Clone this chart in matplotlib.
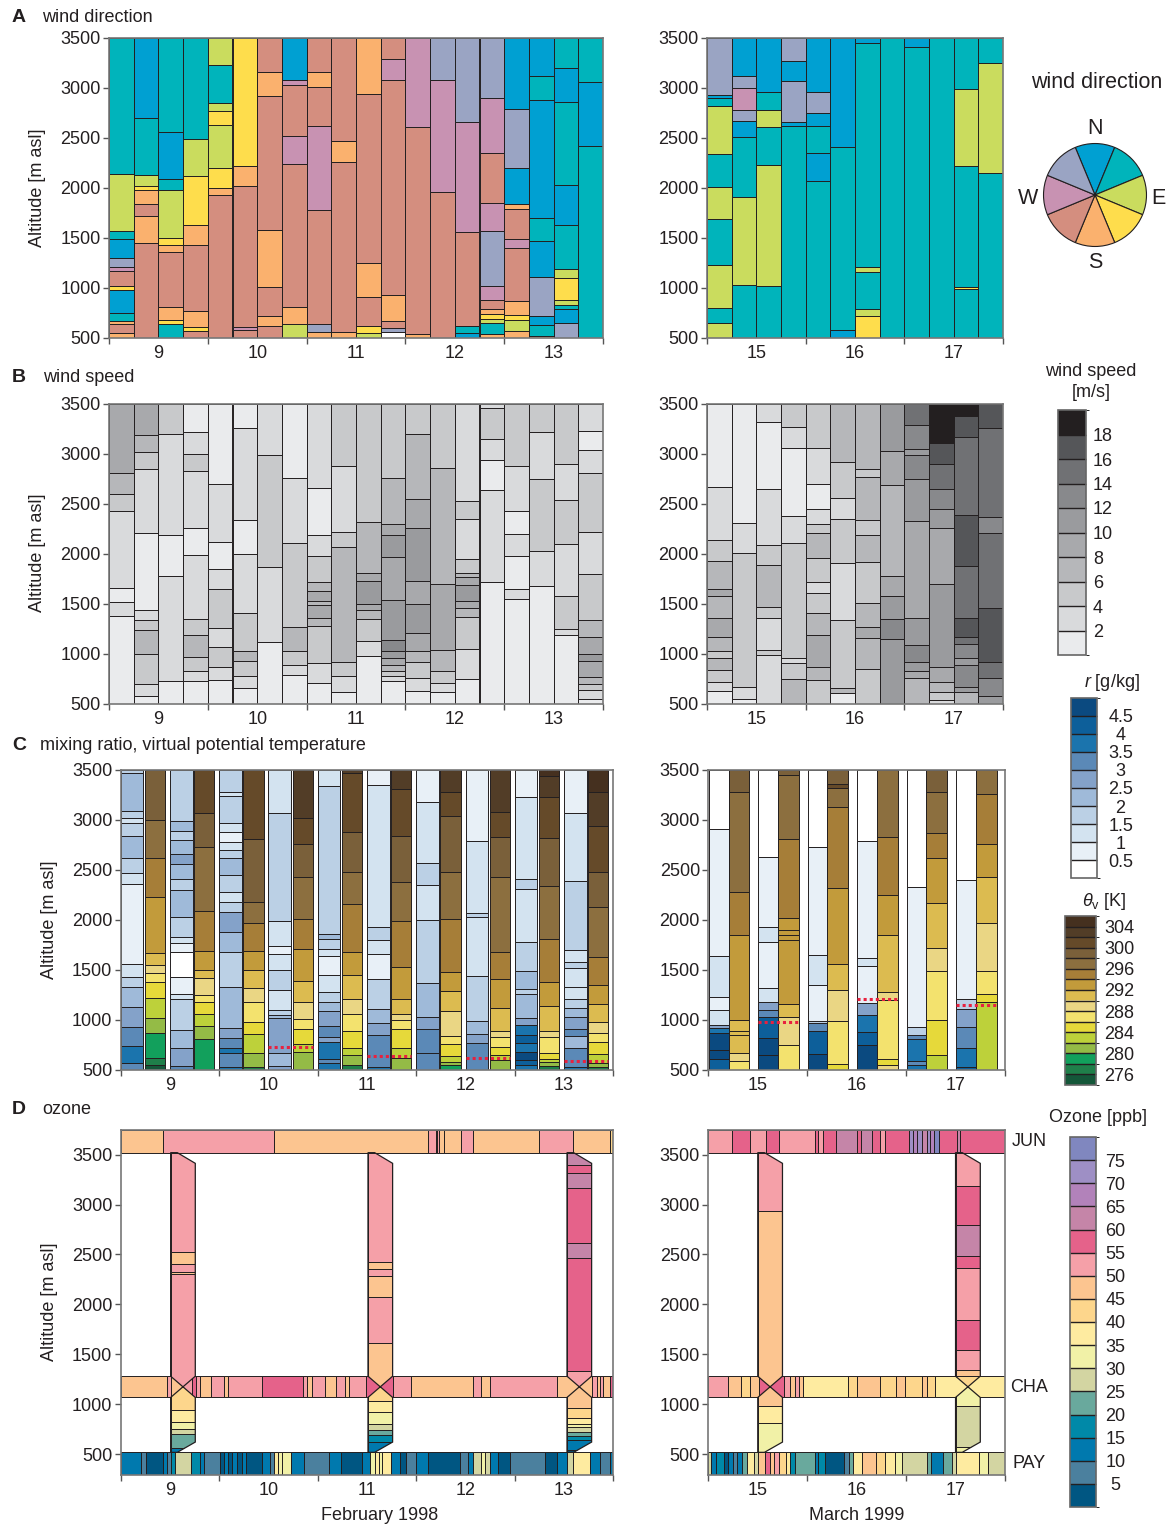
import matplotlib
matplotlib.use('Agg')
import matplotlib.pyplot as plt
from matplotlib.colors import ListedColormap, BoundaryNorm
from matplotlib.cm import ScalarMappable
from matplotlib.patches import Polygon

plt.rcParams['font.family'] = ['Liberation Sans', 'DejaVu Sans']
plt.rcParams['mathtext.fontset'] = 'custom'
plt.rcParams['mathtext.it'] = 'Liberation Sans:italic'
plt.rcParams['mathtext.rm'] = 'Liberation Sans'

# ---------------------------------------------------------------- data
# every column: list of (top of layer [m asl], value) from 500 m upward

# 6-hourly soundings
feb_times = [9 + k / 4 for k in range(20)]
mar_times = [15 + k / 4 for k in range(12)]

wind_dir_feb = [
    [(550, 'S'), (643, 'SW'), (667, 'S'), (750, 'NE'), (977, 'N'), (1017, 'SE'), (1167, 'SW'), (1210, 'W'), (1303, 'NW'), (1490, 'N'), (1573, 'NE'), (2143, 'E'), (3500, 'NE')],
    [(1450, 'SW'), (1723, 'S'), (1843, 'SW'), (1983, 'S'), (2023, 'SE'), (2130, 'E'), (2700, 'NE'), (3500, 'N')],
    [(640, 'NE'), (683, 'SE'), (813, 'S'), (1360, 'SW'), (1433, 'S'), (1500, 'SE'), (1977, 'E'), (2090, 'NE'), (2557, 'N'), (3500, 'NE')],
    [(573, 'SW'), (610, 'SE'), (773, 'S'), (1427, 'SW'), (1630, 'S'), (2123, 'SE'), (2493, 'E'), (3500, 'NE')],
    [(1930, 'SW'), (2000, 'S'), (2197, 'SE'), (2630, 'E'), (2770, 'SE'), (2850, 'E'), (3230, 'NE'), (3500, 'E')],
    [(583, 'SW'), (610, 'W'), (2023, 'SW'), (2223, 'S'), (3500, 'SE')],
    [(623, 'SW'), (717, 'S'), (1007, 'SW'), (1577, 'S'), (2923, 'SW'), (3163, 'S'), (3500, 'SW')],
    [(640, 'E'), (813, 'S'), (2243, 'SW'), (2523, 'W'), (3033, 'SW'), (3077, 'W'), (3500, 'N')],
    [(563, 'S'), (640, 'NW'), (1780, 'SW'), (2617, 'W'), (3013, 'SW'), (3160, 'S'), (3500, 'SW')],
    [(557, 'S'), (2260, 'SW'), (2467, 'S'), (3500, 'SW')],
    [(550, 'E'), (623, 'SE'), (907, 'SW'), (1250, 'S'), (2940, 'SW'), (3500, 'S')],
    [(557, None), (603, 'NW'), (670, 'SW'), (930, 'S'), (3080, 'SW'), (3290, 'W'), (3500, 'SW')],
    [(543, 'S'), (2610, 'SW'), (3500, 'W')],
    [(1957, 'SW'), (3080, 'W'), (3500, 'NW')],
    [(550, 'N'), (620, 'NE'), (1560, 'SW'), (2663, 'W'), (3500, 'NW')],
    [(543, 'S'), (650, 'NE'), (690, 'E'), (740, 'SE'), (790, 'S'), (880, 'SW'), (1020, 'W'), (1570, 'NW'), (1850, 'W'), (2347, 'SW'), (2903, 'W'), (3500, 'NW')],
    [(567, 'S'), (680, 'E'), (727, 'SE'), (867, 'S'), (1397, 'SW'), (1487, 'W'), (1793, 'SW'), (1840, 'S'), (2203, 'N'), (2793, 'NW'), (3500, 'N')],
    [(523, 'S'), (630, 'NE'), (717, 'N'), (1107, 'NW'), (1467, 'N'), (1697, 'NE'), (2877, 'N'), (3120, 'NE'), (3500, 'N')],
    [(650, 'NW'), (790, 'N'), (830, 'NE'), (880, 'E'), (1100, 'SE'), (1190, 'E'), (1627, 'NE'), (2030, 'N'), (2860, 'NE'), (3203, 'N'), (3500, 'NE')],
    [(2420, 'NE'), (3063, 'N'), (3500, 'NE')],
]

wind_dir_mar = [
    [(647, 'E'), (800, 'NE'), (1230, 'E'), (1693, 'NE'), (2007, 'E'), (2343, 'NE'), (2817, 'E'), (2900, 'NE'), (2927, 'N'), (3500, 'NW')],
    [(1033, 'NE'), (1907, 'E'), (2513, 'NE'), (2667, 'N'), (2783, 'NW'), (3003, 'W'), (3117, 'NW'), (3500, 'N')],
    [(1023, 'NE'), (2233, 'E'), (2610, 'NE'), (2783, 'E'), (2963, 'NE'), (3500, 'N')],
    [(2617, 'NE'), (2657, 'N'), (3067, 'NW'), (3273, 'N'), (3500, 'NW')],
    [(2067, 'NE'), (2353, 'N'), (2617, 'NE'), (2750, 'N'), (2957, 'NW'), (3500, 'N')],
    [(577, 'N'), (2407, 'NE'), (3500, 'N')],
    [(723, 'SE'), (790, 'E'), (1160, 'NE'), (1213, 'E'), (3450, 'NE'), (3500, 'N')],
    [(3500, 'NE')],
    [(3410, 'NE'), (3500, 'N')],
    [(3500, 'NE')],
    [(993, 'NE'), (1013, 'SE'), (2220, 'NE'), (2987, 'E'), (3500, 'NE')],
    [(2150, 'NE'), (3250, 'E'), (3500, 'NE')],
]

# wind speed classes in m/s
wind_speed_feb = [
    [(1380, 1), (1520, 3), (1660, 1), (2427, 3), (2603, 5), (2810, 7), (3500, 9)],
    [(577, 1), (700, 3), (1000, 5), (1243, 7), (1340, 5), (1440, 3), (2210, 1), (2853, 3), (3017, 5), (3187, 7), (3500, 9)],
    [(727, 1), (1777, 3), (2193, 1), (3203, 3), (3500, 5)],
    [(733, 1), (833, 3), (967, 5), (1193, 7), (1350, 5), (1990, 3), (2257, 1), (2827, 3), (3000, 5), (3220, 3), (3500, 1)],
    [(737, 1), (873, 3), (1070, 5), (1260, 3), (1653, 5), (1850, 3), (2120, 1), (2703, 3), (3500, 1)],
    [(660, 1), (780, 3), (933, 5), (1027, 7), (1407, 5), (2000, 3), (2340, 1), (3260, 3), (3500, 1)],
    [(1117, 1), (1867, 3), (2993, 5), (3500, 3)],
    [(790, 1), (890, 3), (1027, 5), (1270, 7), (2110, 5), (2760, 3), (3500, 1)],
    [(713, 1), (910, 3), (1283, 5), (1360, 7), (1487, 9), (1527, 7), (1627, 9), (1720, 7), (1983, 5), (2193, 3), (2660, 1), (3500, 3)],
    [(620, 1), (777, 3), (917, 5), (2067, 7), (2220, 5), (2880, 3), (3500, 5)],
    [(980, 1), (1133, 3), (1350, 5), (1440, 7), (1500, 9), (1733, 11), (1807, 9), (2320, 7), (3500, 5)],
    [(733, 1), (777, 3), (827, 5), (893, 7), (960, 9), (1033, 11), (1137, 13), (1543, 11), (1970, 9), (2190, 11), (2300, 9), (2760, 7), (3500, 5)],
    [(633, 1), (757, 3), (917, 5), (1027, 7), (1210, 9), (1503, 11), (1733, 9), (2257, 11), (2550, 9), (3203, 7), (3500, 5)],
    [(620, 1), (707, 3), (827, 5), (1037, 7), (1700, 9), (2857, 7), (3500, 5)],
    [(750, 1), (1053, 3), (1367, 5), (1460, 7), (1527, 9), (1687, 11), (1770, 9), (1810, 7), (1950, 5), (2350, 3), (2527, 5), (3500, 3)],
    [(1717, 1), (2643, 3), (2943, 1), (3150, 3), (3460, 5), (3500, 3)],
    [(1550, 1), (1650, 3), (1977, 1), (2200, 3), (2427, 1), (2880, 3), (3500, 5)],
    [(1683, 1), (2033, 3), (2750, 5), (3220, 3), (3500, 5)],
    [(1187, 1), (1250, 3), (1577, 5), (2100, 3), (2543, 5), (2900, 3), (3500, 5)],
    [(553, 1), (643, 3), (700, 5), (767, 7), (933, 9), (1000, 11), (1170, 9), (1340, 7), (1803, 5), (2220, 3), (2807, 5), (3043, 3), (3233, 1), (3500, 3)],
]

wind_speed_mar = [
    [(633, 1), (717, 3), (840, 5), (963, 7), (1033, 5), (1167, 7), (1357, 9), (1580, 7), (1647, 9), (1927, 7), (2140, 5), (2673, 3), (3500, 1)],
    [(550, 1), (673, 3), (2007, 5), (2307, 3), (3500, 1)],
    [(987, 3), (1040, 5), (1357, 3), (1467, 5), (1893, 7), (2087, 5), (2650, 3), (3317, 1), (3500, 3)],
    [(750, 7), (907, 5), (957, 3), (2110, 5), (2383, 3), (3057, 1), (3273, 3), (3500, 5)],
    [(740, 5), (867, 7), (1187, 9), (1413, 7), (1613, 5), (1717, 3), (1963, 5), (2213, 7), (2303, 5), (2447, 3), (2700, 1), (3060, 3), (3500, 5)],
    [(613, 1), (657, 7), (1340, 5), (1907, 3), (2347, 5), (2560, 3), (2917, 5), (3500, 7)],
    [(847, 5), (1157, 7), (1267, 9), (1513, 7), (1917, 5), (2190, 7), (2340, 5), (2773, 7), (2847, 5), (3500, 7)],
    [(1147, 11), (1347, 13), (1583, 11), (1780, 9), (2693, 7), (3030, 9), (3500, 11)],
    [(757, 7), (833, 9), (923, 11), (1090, 13), (1363, 11), (2333, 9), (2750, 11), (2990, 13), (3047, 11), (3287, 13), (3500, 15)],
    [(540, 3), (617, 5), (723, 7), (867, 9), (1697, 11), (2257, 9), (2450, 11), (2650, 13), (2897, 15), (3107, 17), (3500, 19)],
    [(623, 7), (667, 11), (890, 13), (963, 11), (1100, 13), (1167, 15), (1363, 17), (1883, 15), (2387, 17), (3173, 15), (3383, 17), (3500, 19)],
    [(580, 11), (757, 13), (917, 15), (1457, 17), (2213, 15), (2367, 13), (3257, 15), (3500, 17)],
]

# 12-hourly soundings: mixing ratio r [g/kg] and virtual potential temperature [K]
feb_soundings = [9.0, 9.5, 10.0, 10.5, 11.0, 11.5, 12.0, 12.5, 13.0, 13.5]
mar_soundings = [15.0, 15.5, 16.0, 16.5, 17.0, 17.5]

mix_feb = [
    [(567, 3.25), (740, 3.75), (927, 3.25), (1133, 2.75), (1327, 2.25), (1433, 1.75), (1560, 1.25), (2360, 0.75), (2473, 1.25), (2623, 1.75), (2840, 2.25), (2967, 1.75), (3017, 1.25), (3093, 1.75), (3467, 2.25), (3500, 1.75)],
    [(540, 3.25), (717, 2.75), (900, 2.25), (1210, 1.75), (1257, 1.25), (1427, 0.75), (1683, 0.25), (1767, 0.75), (1827, 1.25), (2027, 1.75), (2300, 2.25), (2410, 1.75), (2557, 2.25), (2657, 2.75), (2800, 2.25), (2893, 1.75), (2990, 2.25), (3500, 1.75)],
    [(533, 3.75), (667, 3.25), (717, 3.75), (817, 3.25), (917, 2.75), (1333, 2.25), (1683, 1.75), (1883, 2.25), (2083, 2.75), (2183, 1.75), (2283, 1.25), (2450, 1.75), (2617, 2.25), (2700, 1.75), (2783, 1.25), (2877, 0.75), (2967, 1.25), (3240, 1.75), (3283, 1.25), (3500, 1.75)],
    [(540, 2.75), (673, 2.25), (1017, 2.75), (1050, 2.25), (1100, 1.75), (1300, 1.25), (1500, 1.75), (1660, 1.25), (1740, 0.75), (1993, 1.25), (3067, 1.75), (3500, 1.25)],
    [(567, 3.75), (607, 3.25), (783, 3.75), (833, 2.75), (940, 3.25), (1093, 2.75), (1177, 2.25), (1277, 1.75), (1450, 1.25), (1640, 0.75), (1707, 1.25), (1807, 1.75), (1860, 2.25), (3340, 1.75), (3500, 1.25)],
    [(533, 3.75), (850, 3.25), (967, 2.75), (1110, 2.25), (1410, 1.75), (1660, 0.75), (1800, 1.25), (1927, 1.75), (3350, 1.25), (3500, 0.75)],
    [(667, 3.25), (907, 3.25), (1027, 2.75), (1367, 2.25), (2000, 1.75), (2350, 1.25), (2573, 1.75), (3183, 1.25), (3500, 0.75)],
    [(773, 3.25), (860, 2.75), (990, 2.25), (1440, 1.75), (2033, 1.25), (2067, 1.75), (2793, 1.25), (3500, 0.75)],
    [(550, 3.75), (600, 4.25), (683, 4.75), (767, 3.75), (850, 4.25), (950, 3.75), (1017, 2.75), (1260, 2.25), (1313, 1.75), (1490, 2.25), (1780, 1.75), (2307, 1.25), (2407, 1.75), (3227, 1.25), (3500, 0.75)],
    [(533, 3.75), (723, 3.25), (840, 2.25), (907, 3.25), (1033, 2.75), (1117, 2.25), (1207, 1.75), (1333, 1.25), (1517, 1.25), (1577, 1.75), (1700, 1.25), (2393, 1.75), (3067, 1.25), (3500, 0.75)],
]

theta_feb = [
    [(550, 275), (623, 277), (867, 279), (1023, 281), (1223, 283), (1377, 285), (1467, 287), (1550, 289), (1667, 291), (2227, 293), (2617, 295), (3000, 297), (3500, 299)],
    [(807, 279), (943, 281), (1060, 283), (1183, 285), (1250, 287), (1417, 289), (1500, 291), (1690, 293), (2093, 295), (2727, 297), (3073, 299), (3500, 301)],
    [(527, 277), (667, 281), (857, 283), (983, 285), (1183, 287), (1323, 289), (1500, 291), (1690, 293), (1973, 295), (2183, 297), (2810, 299), (3500, 301)],
    [(677, 281), (760, 283), (907, 285), (1010, 287), (1177, 289), (1390, 291), (1707, 293), (2013, 295), (2427, 297), (2757, 299), (3017, 301), (3500, 303)],
    [(550, 277), (650, 281), (717, 283), (890, 285), (1057, 287), (1207, 289), (1450, 291), (1683, 293), (2160, 295), (2477, 297), (2883, 299), (3473, 301), (3500, 303)],
    [(617, 281), (717, 283), (913, 285), (1000, 287), (1060, 289), (1210, 291), (1527, 293), (1993, 295), (2377, 297), (2843, 299), (3310, 301), (3500, 303)],
    [(550, 279), (583, 281), (640, 283), (757, 285), (843, 287), (1093, 289), (1290, 291), (1477, 293), (2007, 295), (2477, 297), (3043, 299), (3277, 301), (3500, 303)],
    [(600, 281), (650, 283), (727, 285), (833, 287), (893, 289), (1117, 291), (1410, 293), (1677, 295), (2427, 297), (2827, 299), (3083, 301), (3500, 303)],
    [(540, 277), (583, 281), (610, 283), (667, 285), (827, 287), (893, 289), (1143, 291), (1377, 293), (1807, 295), (2340, 297), (2817, 299), (3233, 301), (3443, 303), (3500, 305)],
    [(527, 277), (567, 281), (657, 283), (783, 285), (867, 287), (983, 289), (1157, 291), (1350, 293), (1627, 295), (2133, 297), (2477, 299), (2943, 301), (3277, 303), (3500, 305)],
]

mix_mar = [
    [(607, 4.25), (700, 4.75), (867, 4.75), (917, 3.75), (950, 2.75), (1100, 1.25), (1227, 0.75), (1640, 1.25), (2907, 0.75), (3500, 0.25)],
    [(650, 4.75), (817, 4.75), (1033, 4.25), (1100, 3.25), (1183, 2.75), (1317, 1.25), (1783, 0.75), (1927, 1.25), (2627, 0.75), (3500, 0.25)],
    [(660, 4.75), (893, 4.25), (967, 3.25), (993, 1.75), (1350, 0.75), (1650, 1.25), (2733, 0.75), (3500, 0.25)],
    [(750, 4.75), (877, 4.25), (1050, 3.75), (1173, 2.75), (1543, 0.75), (1617, 1.25), (2793, 0.75), (3500, 0.25)],
    [(550, 3.75), (593, 3.25), (807, 3.75), (850, 3.25), (933, 1.75), (2333, 0.75), (3500, 0.25)],
    [(527, 4.25), (717, 3.75), (927, 3.25), (1107, 2.75), (1207, 1.75), (2400, 0.75), (3500, 0.25)],
]

theta_mar = [
    [(590, 287), (667, 289), (850, 291), (893, 291), (1000, 291), (1850, 293), (2283, 295), (3277, 297), (3500, 299)],
    [(750, 287), (1027, 289), (1160, 291), (1800, 293), (1850, 293), (1900, 293), (2017, 293), (2810, 295), (3450, 297), (3500, 299)],
    [(560, 285), (990, 287), (1300, 289), (1557, 291), (2323, 293), (3127, 295), (3317, 297), (3360, 301), (3500, 299)],
    [(550, 289), (610, 285), (1200, 287), (1277, 289), (1850, 291), (2250, 293), (2833, 295), (3500, 297)],
    [(650, 283), (1000, 285), (1493, 287), (1717, 289), (2167, 291), (2617, 293), (2867, 295), (3277, 297), (3500, 299)],
    [(1177, 283), (1257, 285), (1490, 287), (1967, 289), (2433, 291), (2760, 293), (3260, 295), (3500, 297)],
]

# mixed-layer top (dotted red)
blh_feb_times = [10.5, 11.5, 12.5, 13.5]
blh_feb = [727, 640, 617, 593]
blh_mar_times = [15.5, 16.5, 17.5]
blh_mar = [983, 1207, 1150]

# ozone [ppb]: station records as (end of period [day], value)
jun_feb = [(9.43, 47.5), (10.56, 52.5), (12.12, 47.5), (12.20, 52.5), (12.21, 47.5), (12.23, 52.5), (12.28, 47.5),
           (12.45, 47.5), (12.58, 52.5), (13.25, 47.5), (13.59, 52.5), (13.97, 47.5), (14.0, 42.5)]
cha_feb = [(9.47, 47.5), (9.51, 52.5), (9.63, 47.5), (9.72, 52.5), (9.76, 57.5), (9.80, 52.5), (9.92, 47.5),
           (10.05, 52.5), (10.09, 47.5), (10.43, 52.5), (10.85, 57.5), (10.89, 52.5), (10.94, 47.5), (11.07, 52.5),
           (11.19, 47.5), (11.28, 52.5), (11.32, 47.5), (11.49, 52.5), (11.76, 57.5), (11.95, 52.5), (12.58, 47.5),
           (12.66, 52.5), (12.75, 47.5), (13.43, 52.5), (13.78, 47.5), (13.83, 52.5), (13.87, 47.5), (13.90, 52.5),
           (13.97, 47.5), (14.0, 57.5)]
pay_feb = [(9.21, 12.5), (9.26, 7.5), (9.43, 2.5), (9.47, 12.5), (9.51, 7.5), (9.55, 17.5), (9.71, 27.5),
           (9.80, 17.5), (9.85, 12.5), (10.01, 7.5), (10.05, 2.5), (10.09, 12.5), (10.13, 2.5), (10.18, 12.5),
           (10.23, 2.5), (10.27, 12.5), (10.43, 2.5), (10.52, 12.5), (10.56, 7.5), (10.60, 37.5), (10.64, 32.5),
           (10.73, 32.5), (10.86, 12.5), (11.11, 7.5), (11.24, 12.5), (11.45, 2.5), (11.53, 12.5), (11.58, 32.5),
           (11.62, 37.5), (11.65, 32.5), (11.74, 37.5), (11.83, 12.5), (11.90, 2.5), (12.00, 7.5), (12.12, 12.5),
           (12.44, 2.5), (12.53, 7.5), (12.58, 12.5), (12.66, 27.5), (12.70, 32.5), (12.75, 27.5), (12.83, 12.5),
           (12.95, 2.5), (13.31, 7.5), (13.43, 2.5), (13.53, 12.5), (13.59, 27.5), (13.76, 37.5), (13.87, 12.5),
           (13.97, 7.5), (14.0, 12.5)]

jun_mar = [(15.24, 52.5), (15.42, 57.5), (15.58, 52.5), (15.71, 57.5), (16.08, 52.5), (16.11, 57.5), (16.16, 52.5),
           (16.29, 57.5), (16.50, 62.5), (16.54, 57.5), (16.66, 62.5), (16.74, 57.5), (16.79, 52.5), (17.03, 57.5),
           (17.07, 72.5), (17.11, 67.5), (17.16, 72.5), (17.21, 62.5), (17.24, 72.5), (17.28, 67.5), (17.33, 77.5),
           (17.51, 57.5), (17.55, 62.5), (18.0, 57.5)]
cha_mar = [(15.20, 52.5), (15.33, 47.5), (15.42, 42.5), (15.51, 47.5), (15.77, 57.5), (15.83, 52.5), (15.88, 47.5),
           (15.92, 52.5), (15.96, 47.5), (16.41, 37.5), (16.50, 42.5), (16.74, 47.5), (16.90, 42.5), (16.99, 47.5),
           (17.16, 42.5), (17.21, 47.5), (17.29, 42.5), (18.0, 37.5)]
pay_mar = [(15.03, 27.5), (15.08, 12.5), (15.16, 17.5), (15.20, 2.5), (15.25, 12.5), (15.29, 7.5), (15.34, 12.5),
           (15.39, 22.5), (15.46, 37.5), (15.50, 27.5), (15.57, 47.5), (15.62, 57.5), (15.66, 47.5), (15.71, 52.5),
           (15.79, 42.5), (15.83, 37.5), (15.88, 17.5), (16.08, 22.5), (16.11, 12.5), (16.18, 17.5), (16.37, 2.5),
           (16.42, 7.5), (16.46, 22.5), (16.55, 37.5), (16.70, 47.5), (16.79, 42.5), (16.89, 37.5), (16.96, 32.5),
           (17.21, 27.5), (17.25, 22.5), (17.37, 12.5), (17.46, 22.5), (17.50, 27.5), (17.74, 37.5), (17.83, 32.5),
           (18.0, 27.5)]

# ozone soundings, (top [m asl], value) from PAY level upward
ozone_prof_feb_times = [9.507, 11.51, 13.53]
ozone_prof_feb = [
    [(557, 12.5), (697, 22.5), (747, 27.5), (817, 32.5), (940, 37.5), (1173, 42.5), (2307, 52.5), (2327, 47.5),
     (2407, 52.5), (2523, 47.5), (3520, 52.5)],
    [(623, 12.5), (690, 17.5), (740, 22.5), (797, 27.5), (917, 32.5), (1033, 37.5), (1173, 42.5), (1617, 47.5),
     (2073, 52.5), (2287, 47.5), (2357, 52.5), (2427, 47.5), (3520, 52.5)],
    [(540, 2.5), (640, 12.5), (680, 17.5), (723, 22.5), (773, 27.5), (797, 32.5), (857, 37.5), (957, 42.5),
     (1173, 47.5), (1333, 52.5), (2467, 57.5), (2613, 62.5), (3163, 57.5), (3313, 62.5), (3400, 57.5), (3520, 62.5)],
]
ozone_prof_mar_times = [15.50, 17.50]
ozone_prof_mar = [
    [(807, 32.5), (980, 37.5), (1173, 47.5), (2940, 47.5), (3520, 52.5)],
    [(567, 32.5), (980, 27.5), (1173, 32.5), (1280, 42.5), (1347, 47.5), (1547, 52.5), (1840, 57.5), (2367, 52.5),
     (2480, 57.5), (2800, 62.5), (3190, 57.5), (3520, 52.5)],
]

# station levels [m asl]
JUN_BOT, JUN_TOP = 3520, 3747
CHA_BOT, CHA_TOP = 1067, 1280
PAY_BOT, PAY_TOP = 290, 517

# ---------------------------------------------------------------- colours
dir_names = ['N', 'NE', 'E', 'SE', 'S', 'SW', 'W', 'NW']
dir_colors = ['#00a0d2', '#00b4bb', '#cadc5e', '#fedd4c', '#fab16e', '#d48e7f', '#c892b2', '#9aa4c3']
dir_lookup = dict(zip(dir_names, dir_colors))

speed_bounds = list(range(0, 22, 2))
speed_colors = ['#eaebed', '#d9dadc', '#c8c9cb', '#b6b7ba', '#a8a9ac', '#9a9b9e', '#88898c', '#707174', '#555659', '#231f20']

mix_bounds = [0, 0.5, 1, 1.5, 2, 2.5, 3, 3.5, 4, 4.5, 5]
mix_colors = ['#ffffff', '#e8f0f7', '#d3e3f0', '#bbd0e5', '#9fbad9', '#84a2c9', '#5b89b7', '#1b74ad', '#0d5f9a', '#0b4a80']

theta_bounds = list(range(274, 308, 2))
theta_colors = ['#145739', '#1f7f4a', '#12a05c', '#94bb46', '#bdd13a', '#e6d93a', '#f3e26e', '#ead684',
                '#dcbb50', '#c29b3b', '#a67e38', '#8c6f3f', '#7a603a', '#654a29', '#523d27', '#45301f']

ozone_bounds = list(range(0, 85, 5))
ozone_colors = ['#005682', '#4b809e', '#0079ae', '#0089a8', '#69a99d', '#d3d5a2', '#f1f1a7', '#feeba0',
                '#fdd68c', '#fcc590', '#f5a0a8', '#e5628a', '#c585a8', '#b282ba', '#9e8fc5', '#8087bf']

EDGE = '#231f20'
SPINE = '#777777'
W, H = 1169, 1526


def scale(colors, bounds):
    cmap = ListedColormap(colors)
    norm = BoundaryNorm(bounds, cmap.N)
    return cmap, norm, (lambda v: cmap(norm(v)))


speed_cmap, speed_norm, speed_col = scale(speed_colors, speed_bounds)
mix_cmap, mix_norm, mix_col = scale(mix_colors, mix_bounds)
theta_cmap, theta_norm, theta_col = scale(theta_colors, theta_bounds)
ozone_cmap, ozone_norm, ozone_col = scale(ozone_colors, ozone_bounds)


def dir_col(v):
    return dir_lookup.get(v, 'white')


# ---------------------------------------------------------------- helpers
fig = plt.figure(figsize=(W / 100, H / 100), dpi=100)


def px_axes(x0, y0, x1, y1):
    return fig.add_axes([x0 / W, 1 - y1 / H, (x1 - x0) / W, (y1 - y0) / H])


def ftext(x, y, s, **kw):
    kw.setdefault('fontsize', 13)
    kw.setdefault('color', EDGE)
    return fig.text(x / W, 1 - y / H, s, **kw)


def style(ax, day0, day1, ylim, yticks):
    ax.set_xlim(day0, day1)
    ax.set_ylim(*ylim)
    ax.set_yticks(yticks)
    ax.set_xticks(range(day0, day1 + 1))
    ax.set_xticklabels([])
    ax.set_xticks([d + 0.5 for d in range(day0, day1)], minor=True)
    ax.set_xticklabels([str(d) for d in range(day0, day1)], minor=True)
    ax.tick_params(axis='x', which='minor', length=0, pad=5, labelsize=13, labelcolor=EDGE)
    ax.tick_params(which='major', length=4.5, width=1, color='#555555', labelsize=13,
                   labelcolor=EDGE, pad=1.5)
    ax.tick_params(axis='y', which='minor', left=False)
    for s in ax.spines.values():
        s.set_color(SPINE)
        s.set_linewidth(1.2)


def column(ax, x, width, segs, colour, base=500, z=2):
    bottoms = [base] + [t for t, _ in segs[:-1]]
    heights = [t - b for (t, _), b in zip(segs, bottoms)]
    return ax.bar([x] * len(segs), heights, width, bottom=bottoms, align='edge',
                  color=[colour(v) for _, v in segs], edgecolor=EDGE, linewidth=0.7, zorder=z)


def strip(ax, start, segs, y0, y1):
    lefts = [start] + [t for t, _ in segs[:-1]]
    widths = [t - l for (t, _), l in zip(segs, lefts)]
    ax.barh([y0] * len(segs), widths, height=y1 - y0, left=lefts, align='edge',
            color=[ozone_col(v) for _, v in segs], edgecolor=EDGE, linewidth=0.7, zorder=2)


def ozone_profile(ax, t0, segs, width=0.25):
    x0, x1 = t0, t0 + width
    xc, xs = t0 + width / 2, t0 + 0.27 * width
    mid = (CHA_BOT + CHA_TOP) / 2
    verts = [(x0, JUN_BOT), (xs, JUN_BOT), (x1, JUN_BOT - 107), (x1, CHA_TOP), (xc, mid), (x1, CHA_BOT),
             (x1, PAY_TOP + 103), (xs, PAY_TOP), (x0, PAY_TOP), (x0, CHA_BOT), (xc, mid), (x0, CHA_TOP)]
    outline = Polygon(verts, closed=True, facecolor='none', edgecolor=EDGE, linewidth=0.9, zorder=4)
    ax.add_patch(outline)
    bars = column(ax, x0, width, segs, ozone_col, base=PAY_TOP, z=3)
    for b in bars:
        b.set_clip_path(outline)


def legend_bar(rect, colors, bounds, ticks, labels, pad, centred=False):
    cax = px_axes(*rect)
    cmap = ListedColormap(colors)
    norm = BoundaryNorm(bounds, cmap.N)
    cb = fig.colorbar(ScalarMappable(norm=norm, cmap=cmap), cax=cax, ticks=ticks, drawedges=True)
    cb.set_ticklabels(labels)
    cb.outline.set_edgecolor('#666666')
    cb.outline.set_linewidth(1.2)
    cb.dividers.set_color(EDGE)
    cb.dividers.set_linewidth(1)
    cax.tick_params(length=0, labelsize=13, pad=pad, labelcolor=EDGE)
    if centred:
        for lab in cax.get_yticklabels():
            lab.set_horizontalalignment('center')
    return cax


alt_ticks = list(range(500, 4000, 500))

# ---------------------------------------------------------------- A: wind direction
for (x0, x1), times, cols, (d0, d1) in [((109, 603), feb_times, wind_dir_feb, (9, 14)),
                                        ((707, 1003), mar_times, wind_dir_mar, (15, 18))]:
    ax = px_axes(x0, 38, x1, 338)
    for t, segs in zip(times, cols):
        column(ax, t, 0.25, segs, dir_col)
    style(ax, d0, d1, (500, 3500), alt_ticks)

# ---------------------------------------------------------------- B: wind speed
for (x0, x1), times, cols, (d0, d1) in [((109, 603), feb_times, wind_speed_feb, (9, 14)),
                                        ((707, 1003), mar_times, wind_speed_mar, (15, 18))]:
    ax = px_axes(x0, 404, x1, 704)
    for t, segs in zip(times, cols):
        column(ax, t, 0.25, segs, speed_col)
    style(ax, d0, d1, (500, 3500), alt_ticks)

# ---------------------------------------------------------------- C: r and theta_v
panels_c = [((120.7, 613.3), feb_soundings, mix_feb, theta_feb, blh_feb_times, blh_feb, (9, 14),
             (0.0, 0.23), (0.245, 0.45)),
            ((708.3, 1005), mar_soundings, mix_mar, theta_mar, blh_mar_times, blh_mar, (15, 18),
             (0.005, 0.205), (0.205, 0.415))]
for (x0, x1), times, mix, theta, bt, bh, (d0, d1), rpos, tpos in panels_c:
    ax = px_axes(x0, 770, x1, 1070)
    for t, rs, ths in zip(times, mix, theta):
        column(ax, t + rpos[0], rpos[1] - rpos[0], rs, mix_col)
        column(ax, t + tpos[0], tpos[1] - tpos[0], ths, theta_col)
    for t, h in zip(bt, bh):
        ax.plot([t + rpos[0], t + tpos[1]], [h, h], color='#e8213f', linestyle=(0, (1, 1)),
                linewidth=2.2, zorder=5)
    style(ax, d0, d1, (500, 3500), alt_ticks)

# ---------------------------------------------------------------- D: ozone
panels_d = [((120.7, 613.3), 9, 14, jun_feb, cha_feb, pay_feb, ozone_prof_feb_times, ozone_prof_feb),
            ((708.3, 1005), 15, 18, jun_mar, cha_mar, pay_mar, ozone_prof_mar_times, ozone_prof_mar)]
for (x0, x1), d0, d1, jun, cha, pay, ptimes, profs in panels_d:
    ax = px_axes(x0, 1130, x1, 1475)
    strip(ax, d0, jun, JUN_BOT, JUN_TOP)
    strip(ax, d0, cha, CHA_BOT, CHA_TOP)
    strip(ax, d0, pay, PAY_BOT, PAY_TOP)
    for t, segs in zip(ptimes, profs):
        ozone_profile(ax, t, segs)
    style(ax, d0, d1, (PAY_BOT, JUN_TOP), alt_ticks)

ftext(380, 1515, 'February 1998', ha='center', va='center')
ftext(857, 1515, 'March 1999', ha='center', va='center')
ftext(1012, 1142, 'JUN', ha='left', va='center')
ftext(1010, 1388, 'CHA', ha='left', va='center')
ftext(1013, 1464, 'PAY', ha='left', va='center')

# ---------------------------------------------------------------- panel titles and axis labels
for letter, title, y, tx in [('A', 'wind direction', 17, 42), ('B', 'wind speed', 378, 43),
                             ('C', 'mixing ratio, virtual potential temperature', 746, 40),
                             ('D', 'ozone', 1110, 42)]:
    ftext(12, y, letter, fontweight='bold', fontsize=14, ha='left', va='center')
    ftext(tx, y, title, ha='left', va='center')

for x, y in [(38, 188), (38, 553), (50, 920), (50, 1302)]:
    ftext(x, y, 'Altitude [m asl]', rotation=90, ha='center', va='center')

# ---------------------------------------------------------------- legends
ftext(1097, 82, 'wind direction', ha='center', va='center', fontsize=15.5)
pax = px_axes(1043, 143, 1147, 247)
pax.pie([1] * 8, colors=dir_colors, startangle=112.5, counterclock=False,
        wedgeprops=dict(edgecolor=EDGE, linewidth=0.8))
pax.set_xlim(-1.01, 1.01)
pax.set_ylim(-1.01, 1.01)
pax.set_aspect('equal')
for s, x, y in [('N', 1095, 128), ('E', 1158, 198), ('S', 1095, 262), ('W', 1028, 198)]:
    ftext(x, y, s, ha='center', va='center', fontsize=15.5)

ftext(1091, 382, 'wind speed\n[m/s]', ha='center', va='center', linespacing=1.25)
legend_bar((1058, 410, 1086, 655), speed_colors, speed_bounds, list(range(2, 20, 2)),
           [str(v) for v in range(2, 20, 2)], pad=5)

ftext(1112, 683, r'$r$ [g/kg]', ha='center', va='center')
legend_bar((1071, 698, 1097, 878), mix_colors, mix_bounds, mix_bounds[1:-1],
           ['0.5', '1', '1.5', '2', '2.5', '3', '3.5', '4', '4.5'], pad=17, centred=True)

ftext(1104, 902, r'$\theta_{\rm v}$ [K]', ha='center', va='center')
legend_bar((1065, 916, 1096, 1085), theta_colors, theta_bounds, list(range(276, 306, 4)),
           [str(v) for v in range(276, 306, 4)], pad=6)

ftext(1098, 1117, 'Ozone [ppb]', ha='center', va='center')
legend_bar((1070, 1137, 1096, 1507), ozone_colors, ozone_bounds, list(range(5, 80, 5)),
           [str(v) for v in range(5, 80, 5)], pad=14, centred=True)

fig.savefig('out.png', dpi=100)
